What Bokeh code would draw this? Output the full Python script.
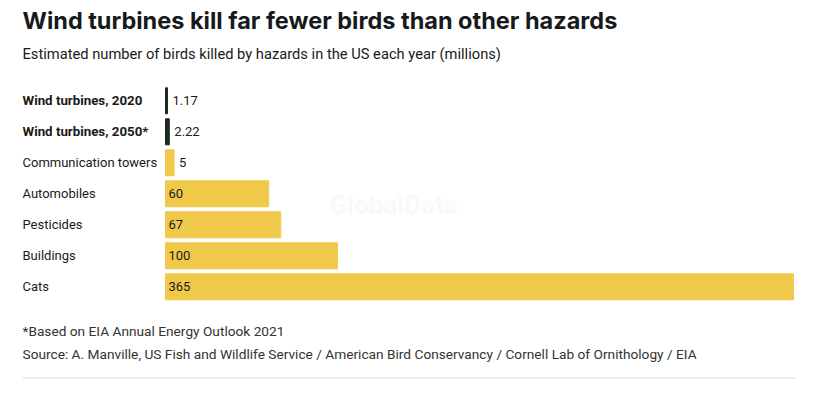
from bokeh.plotting import figure
from bokeh.models import Range1d, Label, ColumnDataSource
from bokeh.core.properties import value
from bokeh.embed import file_html
from bokeh.resources import INLINE

categories = ["Wind turbines, 2020", "Wind turbines, 2050*", "Communication towers",
              "Automobiles", "Pesticides", "Buildings", "Cats"]
values = [1.17, 2.22, 5, 60, 67, 100, 365]
value_labels = ["1.17", "2.22", "5", "60", "67", "100", "365"]
highlight = [True, True, False, False, False, False, False]

title = "Wind turbines kill far fewer birds than other hazards"
subtitle = "Estimated number of birds killed by hazards in the US each year (millions)"
note = "*Based on EIA Annual Energy Outlook 2021"
source = "Source: A. Manville, US Fish and Wildlife Service / American Bird Conservancy / Cornell Lab of Ornithology / EIA"

W, H = 813, 381
LEFT, RIGHT = 165, 793          # pixel extent of the 0..max scale
ROW0, ROWSTEP = 100.3, 31       # pixel centre of first row, row spacing
XMAX = max(values)

def X(px):
    return (px - LEFT) / (RIGHT - LEFT) * XMAX

def Y(py):
    return (py - ROW0) / ROWSTEP

p = figure(width=W, height=H, output_backend="svg", toolbar_location=None,
           x_range=Range1d(X(0), X(W)), y_range=Range1d(Y(H), Y(0)),
           min_border=0, outline_line_color=None)
p.axis.visible = False
p.grid.visible = False
p.background_fill_color = "white"
p.border_fill_color = "white"

YELLOW = "#f0c94b"
DARK = "#1e2b22"
TXT = "#1a1a1a"

rows = list(range(len(categories)))
colors = [DARK if h else YELLOW for h in highlight]
src = ColumnDataSource(dict(y=rows, right=values, color=colors))
p.hbar(y="y", left=0, right="right", height=26 / ROWSTEP, color="color", source=src)

# category labels
for i, (c, h) in enumerate(zip(categories, highlight)):
    p.text(x=[X(22)], y=[i], text=[c], text_font=value("Roboto"),
           text_font_size="13.3px" if h else "13px",
           text_font_style="bold" if h else "normal", text_color=TXT,
           text_baseline="middle", text_align="left")

# value labels
inside_y, inside_x, inside_t = [], [], []
out_y, out_x, out_t = [], [], []
for i, (v, t) in enumerate(zip(values, value_labels)):
    if v > 20:
        inside_y.append(i); inside_x.append(0); inside_t.append(t)
    else:
        out_y.append(i); out_x.append(v); out_t.append(t)
p.text(x=inside_x, y=inside_y, text=inside_t, x_offset=3, text_font=value("Roboto"),
       text_font_size="13px", text_color=TXT, text_baseline="middle", text_align="left")
p.text(x=out_x, y=out_y, text=out_t, x_offset=5, text_font=value("Roboto"),
       text_font_size="13px", text_color=TXT, text_baseline="middle", text_align="left")

# watermark
p.add_layout(Label(x=X(393), y=Y(204), text="GlobalData", text_font="Roboto",
                   text_font_size="26px", text_font_style="bold", text_color="#f9f9f9",
                   text_align="center", text_baseline="middle", level="underlay"))

p.add_layout(Label(x=X(22), y=Y(20), text=title, text_font="Inter",
                   text_font_size="23.5px", text_font_style="bold", text_color="#161a1d",
                   text_baseline="middle"))
p.add_layout(Label(x=X(22), y=Y(53), text=subtitle, text_font="Roboto",
                   text_font_size="14.7px", text_color=TXT, text_baseline="middle"))
p.add_layout(Label(x=X(22), y=Y(330), text=note, text_font="Roboto",
                   text_font_size="13.7px", text_color="#333333", text_baseline="middle"))
p.add_layout(Label(x=X(22), y=Y(353), text=source, text_font="Roboto",
                   text_font_size="13.7px", text_color="#333333", text_baseline="middle"))

p.segment(x0=[X(22)], x1=[X(795)], y0=[Y(377.5)], y1=[Y(377.5)],
          line_color="#dddddd", line_width=1)

open("out.html", "w").write(file_html(p, INLINE))
